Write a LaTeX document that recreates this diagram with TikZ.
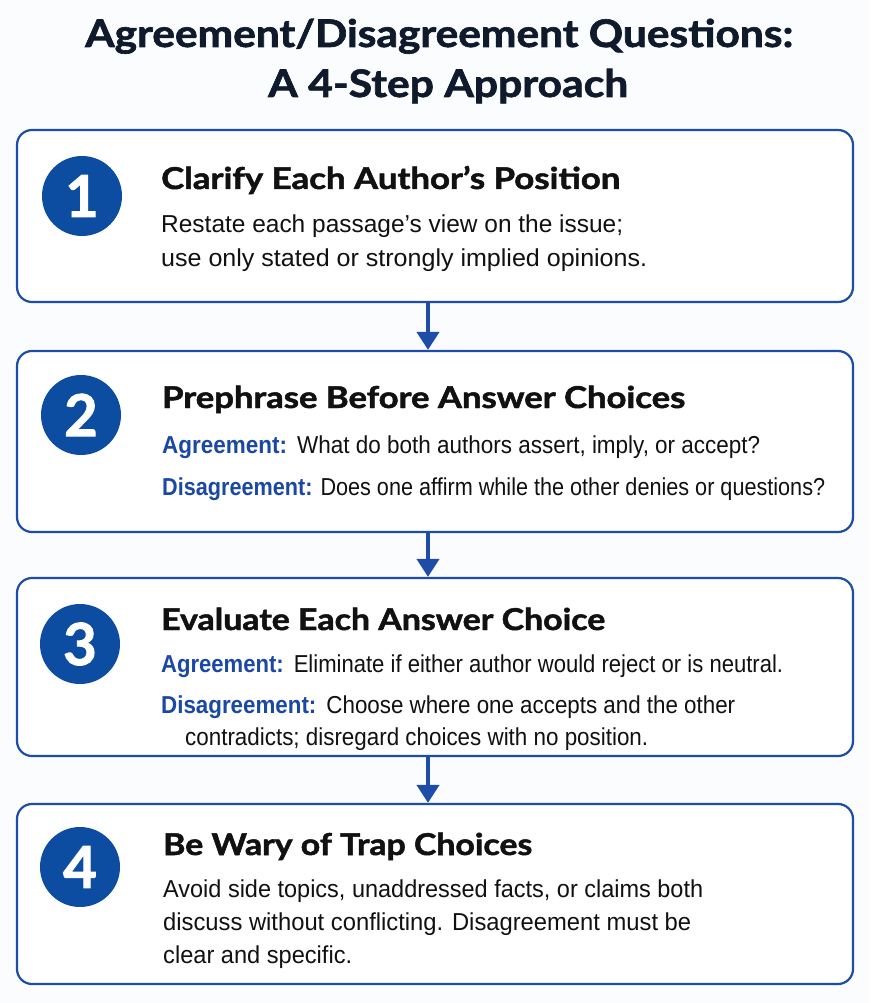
\documentclass[tikz,border=0pt]{standalone}
\usepackage{fontspec}
\usepackage{graphicx}
\setmainfont{Liberation Sans}
\newfontfamily\headfont{Lato}[BoldFeatures={FakeBold=1.6}]
\usetikzlibrary{arrows.meta}
\definecolor{bgc}{HTML}{FBFCFD}
\definecolor{navy}{HTML}{0F1A2C}
\definecolor{ink}{HTML}{111111}
\definecolor{bordc}{HTML}{1E4DA8}
\definecolor{circc}{HTML}{0D4DA1}
\definecolor{labc}{HTML}{1A48A3}
\newcommand\fitto[2]{\resizebox{#1pt}{\height}{#2}}
\newcommand\lab[1]{{\bfseries\color{labc}#1}}
\tikzset{
  stepbox/.style={draw=bordc, line width=2.2pt, fill=white, rounded corners=15pt, minimum width=836pt, inner sep=0pt},
  numcirc/.style={circle, fill=circc, minimum size=80pt, inner sep=0pt, text=white, font=\headfont\bfseries\fontsize{58}{58}\selectfont},
  maintitle/.style={anchor=base west, inner sep=0pt, text=navy, font=\headfont\bfseries\fontsize{38}{44}\selectfont},
  steptitle/.style={anchor=base west, inner sep=0pt, text=ink, font=\headfont\bfseries\fontsize{30}{34}\selectfont},
  bodytext/.style={anchor=base west, inner sep=0pt, text=ink, font=\fontsize{24.5}{28}\selectfont},
  flowarrow/.style={draw=bordc, line width=4pt, -{Triangle[width=22pt, length=18pt]}, color=bordc}
}
\begin{document}
\begin{tikzpicture}[x=1pt, y=-1pt]
\fill[bgc] (0,0) rectangle (870,1003);
\useasboundingbox (0,0) rectangle (870,1003);

% title
\node[maintitle] (t1) at (85,47) {\fitto{708}{Agreement/Disagreement Questions:}};
\node[maintitle] (t2) at (268,97) {\fitto{360}{A 4-Step Approach}};

% boxes
\node[stepbox, minimum height=172pt] (b1) at (435,216) {};
\node[stepbox, minimum height=181pt] (b2) at (435,441.5) {};
\node[stepbox, minimum height=178pt] (b3) at (435,667) {};
\node[stepbox, minimum height=180pt] (b4) at (435,894) {};

% arrows
\coordinate (ax) at (428,0);
\draw[flowarrow] (b1.south -| ax) -- (b2.north -| ax);
\draw[flowarrow] (b2.south -| ax) -- (b3.north -| ax);
\draw[flowarrow] (b3.south -| ax) -- (b4.north -| ax);

% circles
\node[numcirc] (c1) at (82,196) {1};
\node[numcirc] (c2) at (81,415) {2};
\node[numcirc] (c3) at (80,644) {3};
\node[numcirc] (c4) at (80,867) {4};

% step 1
\node[steptitle] (s1t) at (161,189) {\fitto{459}{Clarify Each Author’s Position}};
\node[bodytext] (s1a) at (161,232) {\fitto{462}{Restate each passage’s view on the issue;}};
\node[bodytext] (s1b) at (161,266) {\fitto{486}{use only stated or strongly implied opinions.}};

% step 2
\node[steptitle] (s2t) at (162,408) {\fitto{523}{Prephrase Before Answer Choices}};
\node[bodytext] (s2a) at (162,453) {\fitto{598}{\lab{Agreement:}\hspace{0.45em}What do both authors assert, imply, or accept?}};
\node[bodytext] (s2b) at (162,495) {\fitto{663}{\lab{Disagreement:} Does one affirm while the other denies or questions?}};

% step 3
\node[steptitle] (s3t) at (161,630) {\fitto{444}{Evaluate Each Answer Choice}};
\node[bodytext] (s3a) at (161,672) {\fitto{622}{\lab{Agreement:}\hspace{0.45em}Eliminate if either author would reject or is neutral.}};
\node[bodytext] (s3b) at (161,713) {\fitto{574}{\lab{Disagreement:}\hspace{0.45em}Choose where one accepts and the other}};
\node[bodytext] (s3c) at (185,745) {\fitto{463}{contradicts; disregard choices with no position.}};

% step 4
\node[steptitle] (s4t) at (163,855) {\fitto{369}{Be Wary of Trap Choices}};
\node[bodytext] (s4a) at (163,897) {\fitto{540}{Avoid side topics, unaddressed facts, or claims both}};
\node[bodytext] (s4b) at (163,930) {\fitto{528}{discuss without conflicting. Disagreement must be}};
\node[bodytext] (s4c) at (163,963) {\fitto{189}{clear and specific.}};
\end{tikzpicture}
\end{document}
